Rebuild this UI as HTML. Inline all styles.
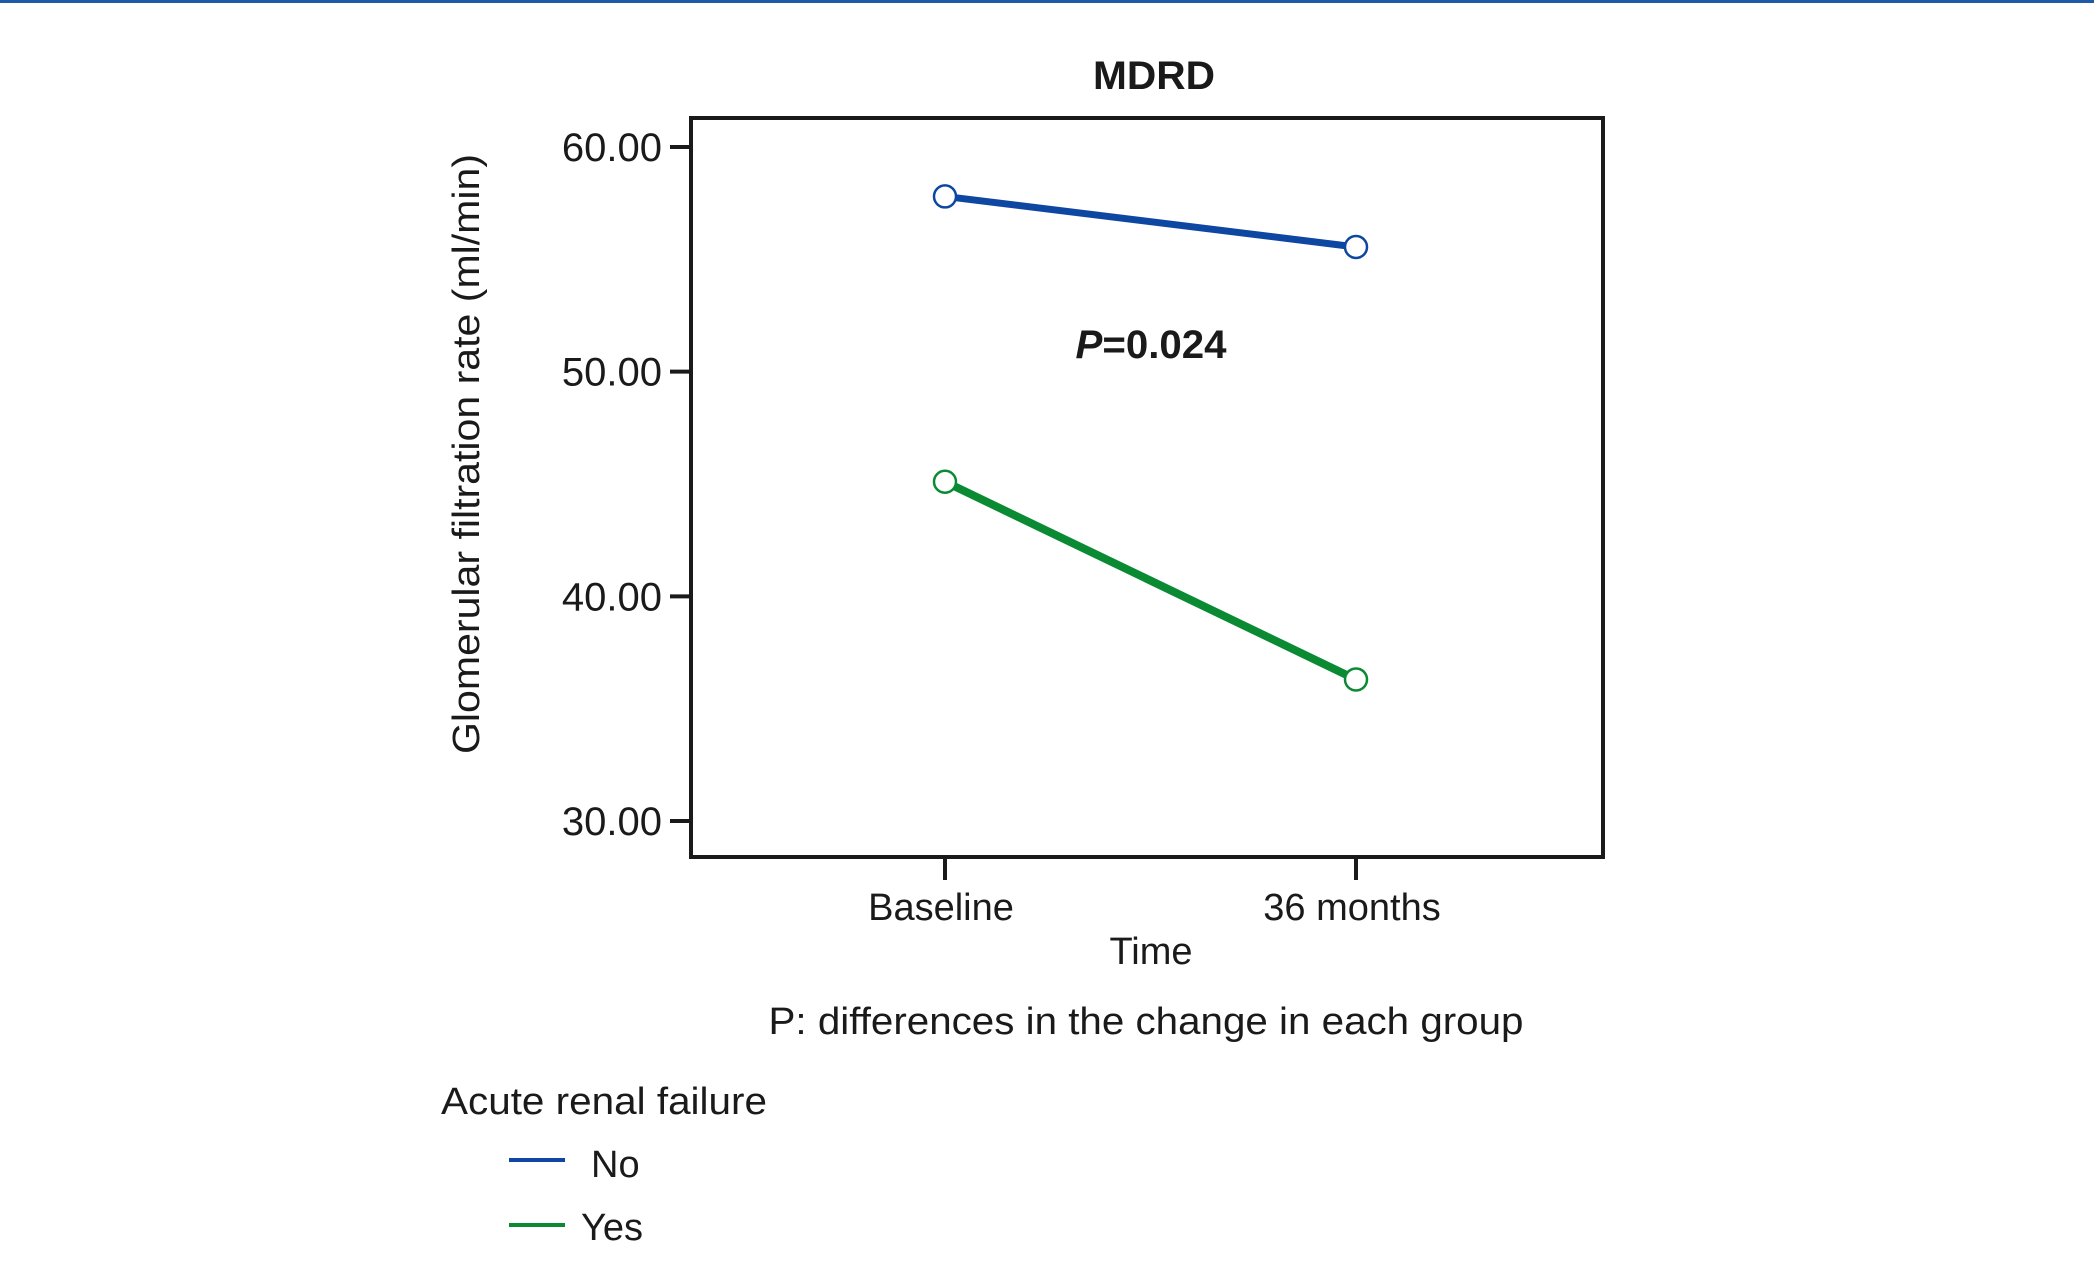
<!DOCTYPE html>
<html><head><meta charset="utf-8"><style>
html,body{margin:0;padding:0;background:#fff;}
svg{display:block;font-family:"Liberation Sans",sans-serif;}
</style></head><body>
<svg id="chart" width="2094" height="1276" viewBox="0 0 2094 1276">
<rect x="0" y="0" width="2094" height="3" fill="#1f5aa6"/>
<text x="1154" y="89" font-size="40" font-weight="bold" text-anchor="middle" fill="#1a1a1a" textLength="122" lengthAdjust="spacingAndGlyphs">MDRD</text>
<rect x="691" y="118" width="912" height="739" fill="none" stroke="#1a1a1a" stroke-width="4"/>
<g id="yaxis"></g>
<g id="xaxis"></g>
<text transform="translate(479,454) rotate(-90)" font-size="38" text-anchor="middle" fill="#1a1a1a" textLength="600" lengthAdjust="spacingAndGlyphs">Glomerular filtration rate (ml/min)</text>
<text x="1151" y="964" font-size="38" text-anchor="middle" fill="#1a1a1a">Time</text>
<text x="1146" y="1034" font-size="38" text-anchor="middle" fill="#1a1a1a" textLength="755" lengthAdjust="spacingAndGlyphs">P: differences in the change in each group</text>
<text x="1151" y="358" font-size="40" font-weight="bold" text-anchor="middle" fill="#1a1a1a" textLength="151" lengthAdjust="spacingAndGlyphs"><tspan font-style="italic">P</tspan>=0.024</text>
<g id="series"></g>
<text x="441" y="1114" font-size="38" fill="#1a1a1a" textLength="326" lengthAdjust="spacingAndGlyphs">Acute renal failure</text>
<line x1="509" y1="1160" x2="565" y2="1160" stroke="#0d47a1" stroke-width="4"/>
<text x="591" y="1177" font-size="38" fill="#1a1a1a">No</text>
<line x1="509" y1="1225" x2="565" y2="1225" stroke="#0a8a32" stroke-width="4"/>
<text x="581" y="1240" font-size="38" fill="#1a1a1a">Yes</text>
</svg>
<script>
const categories = ["Baseline", "36 months"];
const seriesNo = [57.8, 55.55];
const seriesYes = [45.1, 36.3];
const yTicks = [30, 40, 50, 60];
const yTickLabels = ["30.00", "40.00", "50.00", "60.00"];
const NS = "http://www.w3.org/2000/svg";
function yScale(v){ return 821 - (v - 30) * (821 - 147) / 30; }
function xScale(i){ return 945 + i * (1356 - 945); }
function mk(tag, attrs, parent){ const e = document.createElementNS(NS, tag); for (const k in attrs) e.setAttribute(k, attrs[k]); parent.appendChild(e); return e; }
const ya = document.getElementById("yaxis");
yTicks.forEach((t, i) => {
  const y = yScale(t);
  const l = mk("line", {x1: 670, y1: y, x2: 691, y2: y, stroke: "#1a1a1a", "stroke-width": 4}, ya);
  
  
  const tx = mk("text", {x: 662, y: y + 14, "font-size": 40, "text-anchor": "end", fill: "#1a1a1a"}, ya);
  tx.textContent = yTickLabels[i];
  
  
});
const xa = document.getElementById("xaxis");
categories.forEach((c, i) => {
  const x = xScale(i);
  const l = mk("line", {x1: x, y1: 857, x2: x, y2: 880, stroke: "#1a1a1a", "stroke-width": 4}, xa);
  
  
  const tx = mk("text", {x: x - 4, y: 920, "font-size": 38, "text-anchor": "middle", fill: "#1a1a1a"}, xa);
  tx.textContent = c;
  
  
});
const sg = document.getElementById("series");
function drawSeries(vals, color, w, name){
  const pts = vals.map((v, i) => xScale(i) + "," + yScale(v)).join(" ");
  const pl = mk("polyline", {points: pts, fill: "none", stroke: color, "stroke-width": w}, sg);
  
  
  vals.forEach((v, i) => {
    const c = mk("circle", {cx: xScale(i), cy: yScale(v), r: 11, fill: "#fff", stroke: color, "stroke-width": 2.5}, sg);
    
    
  });
}
drawSeries(seriesNo, "#0d47a1", 7, "series-no");
drawSeries(seriesYes, "#0a8a32", 8, "series-yes");
</script>
</body></html>
